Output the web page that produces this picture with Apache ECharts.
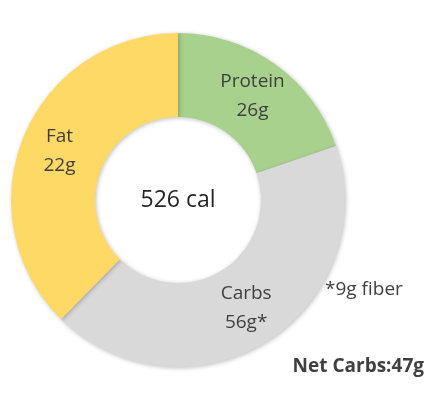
<!DOCTYPE html>
<html><head><meta charset="utf-8">
<script src="https://cdn.jsdelivr.net/npm/echarts@6/dist/echarts.min.js"></script>
<style>html,body{margin:0;padding:0;background:#fff}#c{width:434px;height:406px}</style>
</head><body><div id="c"></div>
<script>
const names = ['Protein', 'Carbs', 'Fat'];
const grams = ['26g', '56g*', '22g'];
const calories = [104, 224, 198];
const colors = ['#A9D18E', '#D9D9D9', '#FFD966'];
const centerText = '526 cal';
const fiberNote = '*9g fiber';
const netCarbs = 'Net Carbs:47g';

const font = 'Open Sans, Liberation Sans, sans-serif';
const chart = echarts.init(document.getElementById('c'));
chart.setOption({
  animation: false,
  series: [{
    type: 'pie',
    center: [178, 200],
    radius: [83, 167],
    startAngle: 90,
    clockwise: true,
    itemStyle: { shadowBlur: 4, shadowColor: 'rgba(0,0,0,0.25)', shadowOffsetX: 1, shadowOffsetY: 1 },
    label: {
      show: true, position: 'inside', color: '#404040', fontSize: 19, fontFamily: font, lineHeight: 29,
      formatter: p => p.name + '\n' + grams[p.dataIndex]
    },
    labelLine: { show: false },
    data: names.map((n, i) => ({ name: n, value: calories[i], itemStyle: { color: colors[i] } }))
  }],
  graphic: [
    { type: 'text', position: [178, 200], style: { text: centerText, fill: '#262626', font: '23px ' + font, textAlign: 'center', textVerticalAlign: 'middle' } },
    { type: 'text', position: [325, 290], style: { text: fiberNote, fill: '#404040', font: '19px ' + font, textAlign: 'left', textVerticalAlign: 'middle' } },
    { type: 'text', position: [424, 367], style: { text: netCarbs, fill: '#404040', font: 'bold 19px ' + font, textAlign: 'right', textVerticalAlign: 'middle' } }
  ]
});
</script></body></html>
